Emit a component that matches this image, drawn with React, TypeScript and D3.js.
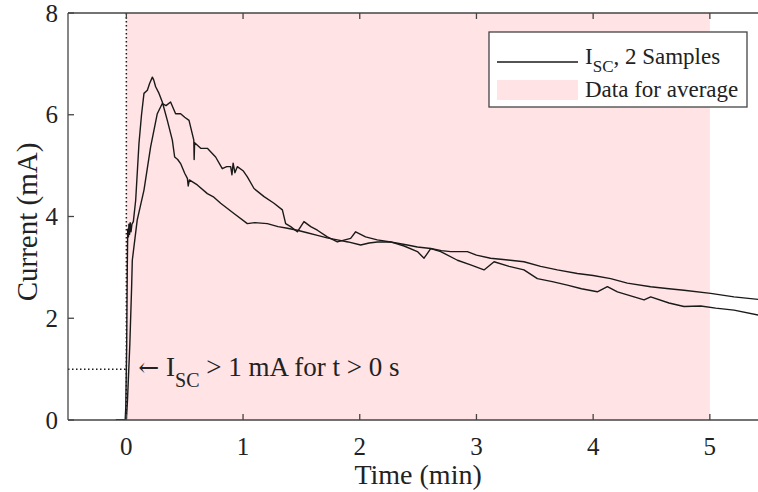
import React from 'react';
import * as d3 from 'd3';

// sample 1: faster rise, higher peak
const sampleA: [number, number][] = [
  [-0.09, 0], [-0.01, 0], [-0.005, 0.25], [0.003, 1.5], [0.008, 3.0], [0.012, 3.75],
  [0.018, 3.6], [0.022, 3.85], [0.028, 3.65], [0.033, 3.88], [0.04, 3.7], [0.048, 3.85],
  [0.06, 3.9], [0.08, 4.32], [0.108, 5.43], [0.13, 6.0], [0.151, 6.42], [0.18, 6.48],
  [0.2, 6.62], [0.223, 6.74], [0.235, 6.68], [0.251, 6.55], [0.28, 6.42], [0.308, 6.25],
  [0.351, 5.89], [0.394, 5.5], [0.414, 5.17], [0.44, 5.12], [0.465, 5.04], [0.5, 4.85],
  [0.523, 4.75], [0.53, 4.6], [0.54, 4.72], [0.608, 4.62], [0.694, 4.45], [0.75, 4.38],
  [0.808, 4.26], [0.922, 4.06], [1.037, 3.86], [1.1, 3.88], [1.208, 3.86], [1.3, 3.8],
  [1.38, 3.77], [1.465, 3.73], [1.55, 3.68], [1.637, 3.63], [1.72, 3.58], [1.808, 3.54],
  [1.9, 3.5], [2.008, 3.44], [2.08, 3.48], [2.151, 3.5], [2.265, 3.5], [2.408, 3.44],
  [2.494, 3.4], [2.608, 3.37], [2.7, 3.33], [2.779, 3.31], [2.922, 3.31], [3.0, 3.24],
  [3.121, 3.18], [3.25, 3.15], [3.407, 3.11], [3.55, 3.02], [3.693, 2.95], [3.865, 2.88],
  [4.0, 2.84], [4.15, 2.78], [4.293, 2.69], [4.493, 2.62], [4.65, 2.58], [4.778, 2.55],
  [5.007, 2.49], [5.207, 2.42], [5.418, 2.37], [5.5, 2.35],
];

// sample 2: slower rise, broader peak
const sampleB: [number, number][] = [
  [-0.09, 0], [0.0, 0], [0.01, 0.4], [0.03, 1.5], [0.045, 2.6], [0.051, 3.14],
  [0.093, 3.93], [0.151, 4.52], [0.208, 5.37], [0.265, 6.02], [0.308, 6.22], [0.34, 6.18],
  [0.379, 6.25], [0.422, 6.02], [0.465, 6.02], [0.5, 5.95], [0.537, 5.89], [0.578, 5.5],
  [0.581, 5.12], [0.585, 5.45], [0.637, 5.34], [0.694, 5.34], [0.765, 5.17], [0.822, 4.94],
  [0.86, 4.98], [0.894, 4.98], [0.905, 4.82], [0.915, 5.05], [0.93, 4.86], [0.951, 4.98],
  [1.0, 4.9], [1.037, 4.78], [1.094, 4.55], [1.18, 4.39], [1.265, 4.26], [1.337, 4.13],
  [1.365, 3.86], [1.408, 3.8], [1.465, 3.7], [1.522, 3.9], [1.58, 3.8], [1.637, 3.73],
  [1.722, 3.6], [1.808, 3.5], [1.922, 3.57], [1.965, 3.7], [2.05, 3.6], [2.15, 3.54],
  [2.265, 3.5], [2.38, 3.42], [2.494, 3.31], [2.551, 3.18], [2.608, 3.37], [2.694, 3.31],
  [2.837, 3.14], [2.95, 3.05], [3.065, 2.95], [3.151, 3.11], [3.28, 3.02], [3.407, 2.95],
  [3.522, 2.78], [3.65, 2.72], [3.779, 2.65], [3.9, 2.58], [4.036, 2.52], [4.122, 2.62],
  [4.208, 2.52], [4.436, 2.36], [4.493, 2.42], [4.65, 2.3], [4.778, 2.23], [4.922, 2.24],
  [5.05, 2.2], [5.207, 2.16], [5.418, 2.06], [5.5, 2.03],
];

const xTicks = [0, 1, 2, 3, 4, 5];
const yTicks = [0, 2, 4, 6, 8];
const averageWindow = [0, 5];
const thresholdCurrent = 1;

const W = 758;
const H = 492;
const left = 68, top = 13, bottom = 420;
const font = '"Liberation Serif", "Times New Roman", serif';
const ink = '#1a1a1a';
const pink = '#ffe3e5';

export default function App() {
  const x = d3.scaleLinear().domain([-0.5, 5.5]).range([left, left + 6 * 116.7]);
  const y = d3.scaleLinear().domain([0, 8]).range([bottom, top]);
  const line = d3.line<[number, number]>().x(d => x(d[0])).y(d => y(d[1]));
  const right = W + 20;

  return (
    <svg width={W} height={H} style={{ position: 'fixed', left: 0, top: 0, background: '#fff' }} fontFamily={font}>
      <defs>
        <clipPath id="plot">
          <rect x={left} y={top} width={right - left} height={bottom - top} />
        </clipPath>
      </defs>
      <rect x={x(averageWindow[0])} y={top} width={x(averageWindow[1]) - x(averageWindow[0])} height={bottom - top} fill={pink} />
      <g clipPath="url(#plot)" fill="none" stroke={ink} strokeWidth={1.4} strokeLinejoin="round">
        <path d={line(sampleA) || ''} />
        <path d={line(sampleB) || ''} />
      </g>
      {/* t = 0 marker and 1 mA threshold */}
      <line x1={x(0)} x2={x(0)} y1={top} y2={bottom} stroke={ink} strokeWidth={1.5} strokeDasharray="1.5,2.5" />
      <line x1={left} x2={x(0)} y1={y(thresholdCurrent)} y2={y(thresholdCurrent)} stroke={ink} strokeWidth={1.5} strokeDasharray="1.5,2.5" />
      {/* axes box */}
      <g stroke="#444" strokeWidth={1.3} fill="none">
        <line x1={left} x2={left} y1={top} y2={bottom} />
        <line x1={left} x2={right} y1={top} y2={top} />
        <line x1={left} x2={right} y1={bottom} y2={bottom} />
        {xTicks.map(t => (
          <g key={t}>
            <line x1={x(t)} x2={x(t)} y1={bottom} y2={bottom - 6} />
            <line x1={x(t)} x2={x(t)} y1={top} y2={top + 6} />
          </g>
        ))}
        {yTicks.map(t => (
          <line key={t} x1={left} x2={left + 6} y1={y(t)} y2={y(t)} />
        ))}
      </g>
      <g fontSize={25} fill="#222">
        {xTicks.map(t => (
          <text key={t} x={x(t)} y={bottom + 35} textAnchor="middle">{t}</text>
        ))}
        {yTicks.map(t => (
          <text key={t} x={left - 10} y={y(t) + 8.5} textAnchor="end">{t}</text>
        ))}
      </g>
      <text x={x(2.5)} y={484} fontSize={28} textAnchor="middle" fill="#222">Time (min)</text>
      <text transform={`translate(37,222) rotate(-90)`} fontSize={29} textAnchor="middle" fill="#222">Current (mA)</text>
      {/* annotation */}
      <text x={x(0) + 12} y={376} fontSize={27} fill="#222">
        <tspan fontFamily="DejaVu Serif" fontSize={25}>←</tspan> I<tspan fontSize={20} dy={11}>SC</tspan><tspan dy={-11}> &gt; 1 mA for t &gt; 0 s</tspan>
      </text>
      {/* legend */}
      <rect x={489} y={32} width={258} height={75} fill="#fff" stroke="#444" strokeWidth={1.3} />
      <line x1={497} x2={578} y1={62} y2={62} stroke={ink} strokeWidth={1.4} />
      <text x={585} y={64} fontSize={23} fill="#222">
        I<tspan fontSize={17} dy={8}>SC</tspan><tspan dy={-8}>, 2 Samples</tspan>
      </text>
      <rect x={497} y={80} width={81} height={20} fill={pink} />
      <text x={585} y={97} fontSize={23} fill="#222">Data for average</text>
    </svg>
  );
}
